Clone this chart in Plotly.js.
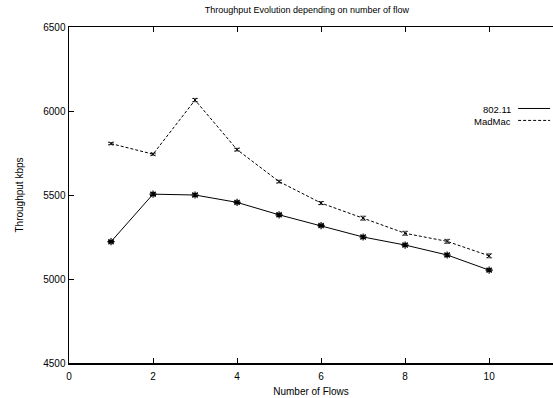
<!DOCTYPE html>
<html><head><meta charset="utf-8">
<script src="https://cdn.plot.ly/plotly-3.0.1.min.js"></script>
<style>html,body{margin:0;padding:0;background:#fff}#c{width:553px;height:398px}</style>
</head><body><div id="c"></div>
<script>
const flows = [1,2,3,4,5,6,7,8,9,10];
const wifi = [5222,5505,5500,5456,5382,5318,5250,5202,5143,5053];
const wifiErr = [6,8,8,8,7,7,7,7,7,7];
const madmac = [5806,5743,6065,5770,5580,5452,5362,5272,5224,5138];
const madmacErr = [6,6,10,8,8,9,12,12,12,12];
const names = ["802.11","MadMac"];

const font = {family:"Liberation Sans, Arial, sans-serif", size:10, color:"#000"};
const traces = [
  {x:flows, y:wifi, name:names[0], mode:"lines+markers", showlegend:false,
   line:{color:"#000", width:1},
   marker:{symbol:"asterisk-open", size:6, color:"#000", line:{color:"#000", width:1.2}},
   error_y:{type:"data", array:wifiErr, color:"#000", thickness:1, width:3}},
  {x:flows, y:madmac, name:names[1], mode:"lines+markers", showlegend:false,
   line:{color:"#000", width:1, dash:"3px,2px"},
   marker:{symbol:"x-thin-open", size:4, color:"#000", line:{color:"#555", width:1}},
   error_y:{type:"data", array:madmacErr, color:"#555", thickness:1, width:3}}
];
const layout = {
  width:553, height:398, margin:{l:69, r:0, t:27, b:35},
  paper_bgcolor:"#fff", plot_bgcolor:"#fff", font:font,
  title:{text:"Throughput Evolution depending on number of flow", font:{family:font.family, size:9, color:"#000"}, x:0.555, xanchor:"center", y:0.975, yanchor:"middle"},
  xaxis:{range:[0,11.52], tickvals:[0,2,4,6,8,10], ticks:"inside", ticklen:5, tickcolor:"#000",
    showgrid:false, zeroline:false, showline:true, linecolor:"#000", linewidth:1.5, mirror:"allticks",
    ticklabelstandoff:3,
    tickfont:{family:font.family, size:10, color:"#000"},
    title:{text:"Number of Flows", font:{family:font.family, size:10, color:"#000"}, standoff:7}},
  yaxis:{range:[4500,6500], tickvals:[4500,5000,5500,6000,6500], ticks:"inside", ticklen:5, tickcolor:"#000",
    showgrid:false, zeroline:false, showline:true, linecolor:"#000", linewidth:1.5, mirror:false,
    tickfont:{family:font.family, size:10, color:"#000"},
    title:{text:"Throughput kbps", font:{family:font.family, size:10, color:"#000"}, standoff:18}},
  annotations:[
    {xref:"paper", yref:"paper", x:0.915, y:0.7545, text:names[0], showarrow:false, xanchor:"right", yanchor:"middle", height:9, borderpad:0, font:{family:font.family, size:9.5, color:"#000"}},
    {xref:"paper", yref:"paper", x:0.915, y:0.719, text:names[1], showarrow:false, xanchor:"right", yanchor:"middle", height:9, borderpad:0, font:{family:font.family, size:9.5, color:"#000"}}
  ],
  shapes:[
    {type:"line", xref:"paper", yref:"paper", x0:0.928, x1:0.994, y0:0.7575, y1:0.7575, line:{color:"#000", width:1}},
    {type:"line", xref:"paper", yref:"paper", x0:0.928, x1:0.994, y0:0.722, y1:0.722, line:{color:"#000", width:1, dash:"3px,2px"}}
  ]
};
Plotly.newPlot("c", traces, layout, {displayModeBar:false, staticPlot:true});
</script></body></html>
